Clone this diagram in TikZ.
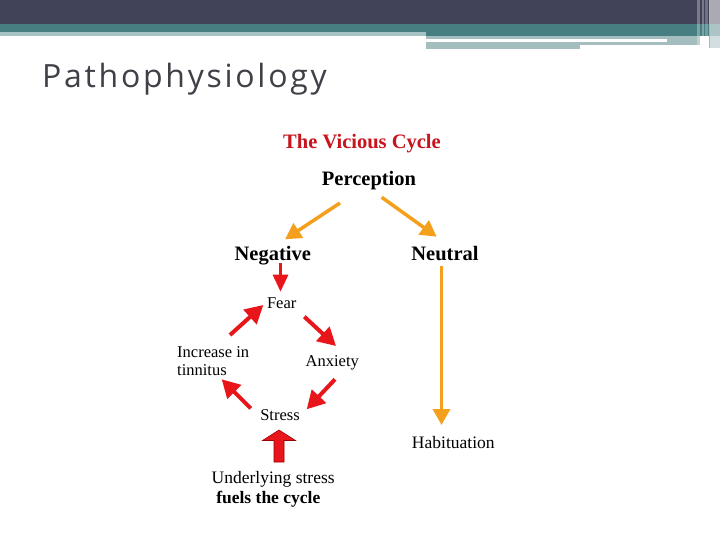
\documentclass[tikz,border=0pt]{standalone}
\usepackage{fontspec}
\setmainfont{Liberation Serif}
\newfontfamily\titlefont[LetterSpace=8.5]{Open Sans}
\usetikzlibrary{arrows.meta,calc}
\definecolor{hdark}{HTML}{414358}
\definecolor{hteal}{HTML}{477E82}
\definecolor{hlight}{HTML}{A6C2C5}
\definecolor{hgray}{HTML}{A4BDBF}
\definecolor{titlegray}{HTML}{404048}
\definecolor{orng}{HTML}{F5A01C}
\definecolor{rred}{HTML}{E8151B}
\definecolor{vcred}{HTML}{C8141C}
\begin{document}
\begin{tikzpicture}[x=1pt,y=-1pt,
  lbl/.style={inner sep=0pt,anchor=base},
  big/.style={lbl,font=\fontsize{20.5}{22}\selectfont\bfseries},
  cyc/.style={lbl,font=\fontsize{16.5}{18}\selectfont},
  mid/.style={lbl,font=\fontsize{17.5}{19}\selectfont},
  oarr/.style={draw=orng,line width=3.5pt,-{Triangle[length=16pt,width=17pt]}},
  rarr/.style={draw=rred,line width=4pt,-{Triangle[length=18pt,width=19pt]}},
  blockarr/.style={fill=rred,draw=red!60!black,line width=0.6pt,line join=miter}]
\useasboundingbox (0,0) rectangle (720,540);
% header
\fill[white] (0,0) rectangle (720,540);
\fill[hdark] (0,0) rectangle (720,24);
\fill[hteal] (0,24) rectangle (720,32);
\fill[hteal] (426,32) rectangle (720,36);
\fill[hlight] (0,32) rectangle (426,36);
\fill[hgray] (426,36) rectangle (700,45);
\fill[hgray] (426,45) rectangle (580,49);
\fill[white] (426,39) rectangle (667,42);
\fill[white,opacity=0.3] (697,0) rectangle (700,48);
\fill[white,opacity=0.3] (702,0) rectangle (704,48);
\fill[white,opacity=0.25] (705,0) rectangle (708,48);
\fill[white,opacity=0.55] (710,0) rectangle (720,48);
\fill[hgray!50] (710,36) rectangle (720,48);
\draw[gray!60,line width=1pt] (709,0) -- (709,48);
% title
\node[lbl,anchor=base west,text=titlegray,font=\titlefont\fontsize{32}{34}\selectfont] (title) at (42,88) {Pathophysiology};
% labels
\node[big,text=vcred] (vc) at (362,149) {The Vicious Cycle};
\node[big] (perc) at (369,186) {Perception};
\node[big] (neg) at (272.8,260) {Negative};
\node[big] (neu) at (445,260) {Neutral};
\node[cyc] (fear) at (281.7,308) {Fear};
\node[cyc] (anx) at (332.3,366) {Anxiety};
\node[cyc,anchor=base west] (inc) at (177,357) {Increase in};
\node[cyc,anchor=base west] (tin) at (177,375) {tinnitus};
\node[cyc] (stress) at (280,420) {Stress};
\node[mid] (hab) at (453.3,448.3) {Habituation};
\node[mid] (under) at (273.2,483.3) {Underlying stress};
\node[mid,font=\fontsize{17.5}{19}\selectfont\bfseries] (fuels) at (268.3,503.3) {fuels the cycle};
% orange arrows
\draw[oarr] ($(perc.base)+(-29,17)$) -- ($(neg.base)+(12.2,-20.7)$);
\draw[oarr] ($(perc.base)+(12.7,11.3)$) -- ($(neu.base)+(-8.3,-23.3)$);
\draw[oarr] ($(neu.base)+(-3.5,6)$) -- ($(hab.base)+(-11.8,-23.3)$);
% red arrows
\draw[draw=rred,line width=3pt,-{Triangle[length=17pt,width=15pt]}] ($(neg.base)+(7.7,3)$) -- ($(fear.base)+(-1.2,-16.3)$);
\draw[rarr] ($(fear.base)+(22.6,8.7)$) -- ($(anx.base)+(3.7,-20)$);
\draw[rarr] ($(anx.base)+(2.7,13.3)$) -- ($(stress.base)+(26.7,-10.7)$);
\draw[rarr] ($(stress.base)+(-29.3,-11.7)$) -- ($(tin.base west)+(44.7,4.3)$);
\draw[rarr] ($(inc.base west)+(53,-22)$) -- ($(fear.base)+(-18.4,-3)$);
% block arrow
\coordinate (bt) at ($(under.base)+(5.8,-53.3)$);
\draw[blockarr] (bt) -- ++(16.5,10.5) -- ++(-11.5,0) -- ++(0,21.5) -- ++(-10,0) -- ++(0,-21.5) -- ++(-11.5,0) -- cycle;
\end{tikzpicture}
\end{document}
